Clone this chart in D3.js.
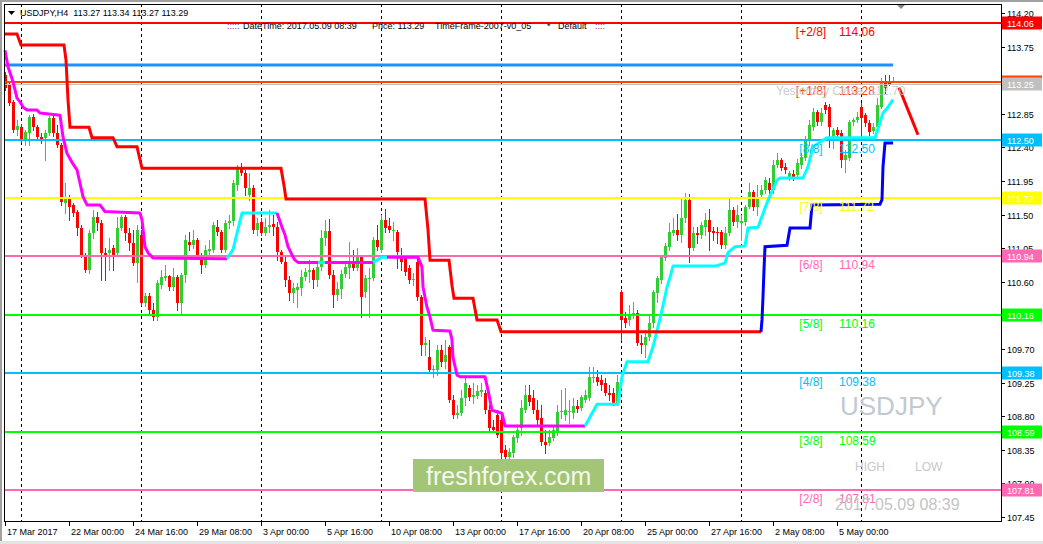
<!DOCTYPE html>
<html>
<head>
<meta charset="utf-8">
<script src="https://cdn.jsdelivr.net/npm/d3@7"></script>
<style>
  body { margin: 0; background: #fff; }
  svg { display: block; font-family: "Liberation Sans", Arial, sans-serif; }
  text { white-space: pre; }
</style>
</head>
<body>
<svg width="1043" height="544"></svg>
<script>

// H4 bars, first one is 17 Mar 08:00, bar 0 is 20 Mar 00:00
const firstBar = -4;

const open = [
  113.37, 113.24, 113.01, 112.63, 112.67, 112.50, 112.59, 112.81, 112.67, 112.54,
  112.53, 112.59, 112.79, 112.59, 112.43, 111.66, 111.74, 111.63, 111.54, 111.32,
  110.96, 110.76, 111.25, 111.47, 111.39, 110.99, 110.99, 111.05, 110.99, 111.32,
  111.47, 111.25, 111.12, 110.85, 111.23, 110.32, 110.41, 110.22, 110.13, 110.56,
  110.65, 110.68, 110.53, 110.66, 110.32, 110.69, 111.13, 111.09, 111.16, 110.96,
  110.83, 111.01, 111.03, 111.33, 111.27, 111.03, 111.39, 111.41, 111.90, 112.12,
  112.06, 111.76, 111.86, 111.29, 111.40, 111.25, 111.33, 111.37, 111.33, 111.00,
  110.87, 110.62, 110.45, 110.49, 110.52, 110.66, 110.73, 110.76, 110.62, 110.80,
  111.19, 111.28, 110.69, 110.42, 110.50, 110.70, 110.78, 110.85, 110.78, 110.93,
  110.46, 110.64, 110.65, 111.16, 111.03, 111.43, 111.35, 111.28, 111.27, 110.96,
  110.92, 110.78, 110.62, 110.87, 110.40, 109.75, 109.59, 109.42, 109.42, 109.69,
  109.53, 109.73, 109.02, 108.82, 108.84, 109.04, 109.18, 109.06, 109.07, 109.12,
  109.11, 108.88, 108.66, 108.82, 108.75, 108.35, 108.25, 108.31, 108.51, 108.64,
  108.88, 109.08, 109.04, 108.88, 108.78, 108.46, 108.44, 108.51, 108.59, 108.86,
  108.82, 108.86, 108.84, 108.94, 108.91, 109.02, 109.04, 109.31, 109.33, 109.29,
  109.25, 109.11, 109.11, 108.98, 110.46, 110.12, 110.09, 110.17, 110.18, 109.78,
  109.75, 109.86, 110.05, 110.45, 110.62, 110.92, 111.07, 111.25, 111.29, 111.23,
  111.45, 111.70, 111.05, 111.25, 111.23, 111.33, 111.43, 111.28, 111.27, 111.27,
  111.09, 111.25, 111.56, 111.40, 111.39, 111.40, 111.60, 111.80, 111.60, 111.76,
  111.83, 111.92, 111.83, 112.16, 112.23, 112.14, 111.99, 112.04, 112.03, 112.16,
  112.26, 112.49, 112.67, 112.87, 112.74, 112.97, 112.94, 112.50, 112.63, 112.59,
  112.23, 112.26, 112.74, 112.77, 112.94, 112.83, 112.73, 112.62, 112.67, 112.94,
  113.26, 113.28, 113.27
];
const high = [
  113.41, 113.28, 113.04, 112.77, 112.71, 112.63, 112.83, 112.85, 112.70, 112.59,
  112.63, 112.82, 112.83, 112.70, 112.46, 111.92, 111.76, 111.66, 111.56, 111.36,
  110.99, 111.29, 111.56, 111.54, 111.43, 111.05, 111.19, 111.09, 111.47, 111.50,
  111.50, 111.32, 111.29, 111.36, 111.29, 110.45, 110.45, 110.32, 110.62, 110.76,
  110.83, 110.69, 110.78, 110.69, 110.72, 111.23, 111.27, 111.29, 111.19, 110.99,
  111.09, 111.16, 111.40, 111.43, 111.29, 111.43, 111.50, 111.96, 112.16, 112.19,
  112.10, 112.06, 111.90, 111.45, 111.45, 111.45, 111.56, 111.49, 111.40, 111.03,
  110.95, 110.68, 110.58, 110.58, 110.76, 110.79, 110.89, 110.79, 110.85, 111.29,
  111.43, 111.44, 110.76, 110.60, 110.76, 110.85, 111.13, 111.03, 111.05, 110.96,
  110.69, 110.78, 111.20, 111.36, 111.50, 111.58, 111.45, 111.40, 111.29, 111.05,
  110.96, 110.83, 110.72, 110.96, 110.42, 109.86, 109.82, 109.49, 109.75, 109.75,
  109.82, 109.75, 109.08, 108.95, 109.15, 109.35, 109.22, 109.25, 109.22, 109.25,
  109.15, 108.95, 108.75, 108.88, 108.82, 108.41, 108.37, 108.55, 108.68, 109.02,
  109.22, 109.22, 109.15, 109.02, 108.95, 108.62, 108.62, 108.68, 108.95, 109.15,
  109.18, 109.02, 109.04, 109.02, 109.08, 109.15, 109.46, 109.46, 109.42, 109.35,
  109.31, 109.22, 109.18, 109.35, 110.49, 110.20, 110.29, 110.33, 110.22, 109.89,
  109.95, 110.16, 110.49, 110.68, 110.96, 111.12, 111.39, 111.45, 111.51, 111.72,
  111.79, 111.78, 111.33, 111.33, 111.40, 111.52, 111.58, 111.33, 111.33, 111.29,
  111.33, 111.71, 111.60, 111.63, 111.49, 111.63, 111.92, 111.83, 111.90, 111.90,
  112.00, 111.99, 112.23, 112.33, 112.26, 112.19, 112.08, 112.10, 112.24, 112.33,
  112.55, 112.77, 112.93, 112.90, 112.93, 113.01, 112.98, 112.66, 112.67, 112.63,
  112.37, 112.77, 112.79, 112.87, 112.99, 112.86, 112.77, 112.73, 113.06, 113.33,
  113.37, 113.37, 113.34
];
const low = [
  113.17, 112.97, 112.61, 112.57, 112.47, 112.43, 112.43, 112.63, 112.50, 112.46,
  112.23, 112.57, 112.55, 112.41, 111.63, 111.52, 111.43, 111.48, 111.23, 110.93,
  110.73, 110.72, 111.19, 111.29, 110.62, 110.62, 110.76, 110.76, 110.95, 111.29,
  111.16, 111.03, 110.83, 110.60, 110.29, 110.28, 110.18, 110.09, 110.09, 110.52,
  110.62, 110.49, 110.49, 110.22, 110.16, 110.60, 111.03, 111.05, 110.92, 110.72,
  110.80, 110.96, 111.00, 111.23, 111.00, 111.00, 111.32, 111.36, 111.83, 112.03,
  111.76, 111.70, 111.25, 111.23, 111.23, 111.23, 111.27, 111.23, 110.89, 110.85,
  110.54, 110.36, 110.33, 110.26, 110.42, 110.62, 110.60, 110.52, 110.54, 110.76,
  111.09, 110.65, 110.26, 110.36, 110.38, 110.66, 110.65, 110.76, 110.76, 110.13,
  110.40, 110.13, 110.62, 111.03, 111.00, 111.27, 111.27, 111.16, 110.78, 110.76,
  110.69, 110.58, 110.56, 110.36, 109.62, 109.62, 109.39, 109.33, 109.35, 109.47,
  109.45, 108.99, 108.78, 108.78, 108.82, 108.95, 109.02, 108.98, 109.04, 109.07,
  108.84, 108.62, 108.59, 108.52, 108.17, 108.12, 108.21, 108.25, 108.46, 108.55,
  108.86, 108.95, 108.84, 108.68, 108.41, 108.31, 108.41, 108.48, 108.55, 108.78,
  108.75, 108.71, 108.78, 108.86, 108.88, 108.99, 109.02, 109.26, 109.22, 109.15,
  109.08, 109.02, 108.95, 108.95, 109.82, 109.99, 110.02, 110.12, 109.75, 109.65,
  109.59, 109.82, 109.99, 110.33, 110.58, 110.89, 111.03, 111.23, 111.16, 111.13,
  111.40, 110.87, 111.03, 111.12, 111.19, 111.23, 111.03, 111.16, 111.12, 111.05,
  111.05, 111.23, 111.36, 111.33, 111.16, 111.36, 111.59, 111.56, 111.49, 111.72,
  111.79, 111.79, 111.79, 112.14, 112.10, 112.06, 111.96, 111.96, 112.00, 112.12,
  112.23, 112.43, 112.63, 112.70, 112.70, 112.86, 112.41, 112.39, 112.50, 112.14,
  112.07, 112.23, 112.70, 112.74, 112.54, 112.69, 112.57, 112.59, 112.63, 112.93,
  113.13, 113.24, 113.27
];
const close = [
  113.20, 113.00, 112.63, 112.69, 112.50, 112.61, 112.81, 112.67, 112.54, 112.49,
  112.59, 112.79, 112.59, 112.43, 111.67, 111.74, 111.60, 111.52, 111.32, 110.96,
  110.76, 111.25, 111.47, 111.39, 110.99, 110.93, 111.03, 110.96, 111.32, 111.47,
  111.25, 111.12, 110.85, 111.29, 110.32, 110.41, 110.22, 110.13, 110.58, 110.66,
  110.68, 110.53, 110.66, 110.32, 110.69, 111.16, 111.09, 111.16, 110.96, 110.83,
  111.03, 111.04, 111.36, 111.27, 111.03, 111.39, 111.41, 111.92, 112.12, 112.06,
  111.86, 111.86, 111.29, 111.39, 111.25, 111.33, 111.36, 111.33, 111.00, 110.87,
  110.62, 110.45, 110.52, 110.53, 110.66, 110.73, 110.76, 110.62, 110.80, 111.19,
  111.28, 110.69, 110.42, 110.50, 110.70, 110.80, 110.85, 110.78, 110.93, 110.40,
  110.65, 110.65, 111.16, 111.07, 111.43, 111.32, 111.29, 111.29, 111.00, 110.87,
  110.73, 110.62, 110.64, 110.40, 109.75, 109.78, 109.42, 109.43, 109.69, 109.53,
  109.62, 109.02, 108.82, 108.84, 109.04, 109.25, 109.06, 109.08, 109.14, 109.15,
  108.88, 108.64, 108.62, 108.55, 108.31, 108.25, 108.32, 108.52, 108.62, 108.91,
  109.08, 108.99, 108.88, 108.75, 108.46, 108.41, 108.52, 108.62, 108.86, 108.87,
  108.88, 108.87, 108.94, 108.90, 109.06, 109.08, 109.32, 109.33, 109.26, 109.22,
  109.11, 109.08, 108.98, 109.26, 110.09, 110.05, 110.16, 110.18, 109.78, 109.75,
  109.86, 110.05, 110.46, 110.65, 110.93, 111.08, 111.27, 111.29, 111.23, 111.45,
  111.70, 111.05, 111.25, 111.23, 111.36, 111.43, 111.27, 111.25, 111.25, 111.09,
  111.25, 111.56, 111.40, 111.50, 111.41, 111.60, 111.80, 111.60, 111.72, 111.83,
  111.96, 111.83, 112.16, 112.23, 112.12, 112.10, 112.06, 111.99, 112.19, 112.27,
  112.50, 112.70, 112.87, 112.74, 112.86, 112.90, 112.67, 112.63, 112.57, 112.23,
  112.30, 112.74, 112.77, 112.81, 112.79, 112.73, 112.61, 112.67, 112.97, 113.28,
  113.20, 113.25, 113.29
];

// trailing stop line (magenta while falling, aqua while rising)
const trailBar = [
  -4, -3.25, -2, -1, -0.25, 0.5, 1.5, 4, 4.75, 9.75, 10.5, 11.5, 12.75, 14, 14.75, 15.5, 16.5, 19.75,
  21, 29.75, 30.25, 31, 31.75, 33, 51.5, 53, 54, 55.25, 64, 65.25, 66, 66.75, 67.75, 68.5, 69.25,
  74.25, 76, 88, 90.25, 91.5, 99.25, 100.25, 100.5, 101.5, 102.25, 103, 107.25, 107.75, 108, 109,
  109.75, 116, 116.75, 117.75, 119, 120.25, 121, 141, 142.25, 144, 149.25, 150.25, 151.5, 156.75,
  158, 159.25, 160.25, 161.5, 162.25, 163, 173.5, 176, 176.75, 178.5, 181, 181.75, 184.25, 186.5,
  189, 189.75, 195.5, 196.75, 198, 201.5, 213.5, 215.5, 216.75, 218
];
const trailPrice = [
  113.70, 113.48, 113.28, 113.06, 113.01, 112.94, 112.90, 112.90, 112.86, 112.83, 112.54, 112.32, 112.20, 112.10, 111.92, 111.74, 111.63, 111.63,
  111.54, 111.52, 111.43, 111.07, 110.99, 110.92, 110.91, 111.03, 111.25, 111.52, 111.52, 111.33, 111.23, 111.07, 110.96, 110.89, 110.86,
  110.86, 110.86, 110.86, 110.93, 110.93, 110.93, 110.80, 110.53, 110.26, 110.13, 109.95, 109.94, 109.82, 109.59, 109.35,
  109.33, 109.33, 109.15, 108.88, 108.86, 108.84, 108.67, 108.67, 108.79, 108.96, 108.96, 109.33, 109.53, 109.53,
  109.73, 110.00, 110.22, 110.53, 110.66, 110.81, 110.81, 110.85, 110.99, 111.07, 111.08, 111.32, 111.33, 111.66,
  111.96, 111.99, 111.99, 112.14, 112.41, 112.53, 112.53, 112.86, 112.94, 113.04
];
// 1 = rising segment ending at this point
const trailUp = [
  0, 0, 0, 0, 0, 0, 0, 0, 0, 0, 0, 0, 0, 0, 0, 0, 0, 0,
  0, 0, 0, 0, 0, 0, 0, 1, 1, 1, 1, 0, 0, 0, 0, 0, 0,
  0, 1, 0, 1, 1, 0, 0, 0, 0, 0, 0, 0, 0, 0, 0,
  0, 0, 0, 0, 0, 0, 0, 0, 1, 1, 1, 1, 1, 1,
  1, 1, 1, 1, 1, 1, 1, 1, 1, 1, 1, 1, 1, 1,
  1, 1, 1, 1, 1, 1, 1, 1, 1, 1
];

// stepped resistance (red) and support (blue)
const resistBar = [-4, -1, 0, 10.75, 11.25, 11.75, 12.25, 17, 17.75, 23, 24, 29, 30.25, 65, 65.75, 66.25, 101, 101.75, 102.25, 107, 107.75, 108.25, 113, 114, 119, 120, 185];
const resistPrice = [113.92, 113.92, 113.77, 113.77, 113.57, 113.04, 112.67, 112.67, 112.53, 112.53, 112.41, 112.41, 112.12, 112.12, 111.89, 111.71, 111.71, 111.30, 110.89, 110.89, 110.55, 110.38, 110.38, 110.09, 110.09, 109.93, 109.93];
const supportBar = [185, 185.25, 185.5, 185.75, 186, 191.5, 192.25, 197.25, 197.75, 214.75, 215.25, 215.5, 216, 218];
const supportPrice = [109.93, 110.09, 110.40, 110.76, 111.07, 111.09, 111.32, 111.32, 111.63, 111.64, 111.70, 112.14, 112.46, 112.46];
const projBar = [219.5, 224.25];
const projPrice = [113.20, 112.57];

// Murrey levels
const levelNames = ['[+2/8]', '[+1/8]', '[8/8]', '[7/8]', '[6/8]', '[5/8]', '[4/8]', '[3/8]', '[2/8]'];
const levelValues = [114.06, 113.28, 112.50, 111.72, 110.94, 110.16, 109.38, 108.59, 107.81];
const levelColors = ['#ff0000', '#ff4500', '#00bfff', '#ffff00', '#ff69b4', '#00ff00', '#00bfff', '#00ff00', '#ff69b4'];

const dayHigh = 113.50;
const bidLine = 113.25;

const priceTicks = [114.20, 113.75, 113.30, 112.85, 112.40, 111.95, 111.50, 111.05, 110.60, 110.15, 109.70, 109.25, 108.80, 108.35, 107.90, 107.45];
const timeTickBars = [-4, 12, 28, 44, 60, 76, 92, 108, 124, 140, 156, 172, 188, 204];
const timeTickLabels = ['17 Mar 2017', '22 Mar 00:00', '24 Mar 16:00', '29 Mar 08:00', '3 Apr 00:00', '5 Apr 16:00', '10 Apr 08:00',
  '13 Apr 00:00', '17 Apr 16:00', '20 Apr 08:00', '25 Apr 00:00', '27 Apr 16:00', '2 May 08:00', '5 May 00:00'];
const weekStarts = [0, 30, 60, 90, 120, 150, 180, 210];


let svg = d3.select('svg');
let plot = { left: 4, right: 1001, top: 4, bottom: 521 };

let x = d3.scaleLinear().domain([-4, 218]).range([5, 893]);
let y = d3.scaleLinear().domain([107.45, 114.20]).range([517, 13]);
let px = v => Math.round(x(v));
let py = v => Math.round(y(v));

// window edges
svg.append('rect').attr('width', 1043).attr('height', 2).attr('fill', '#a0a0a0');
svg.append('rect').attr('width', 2).attr('height', 544).attr('fill', '#a0a0a0');
svg.append('rect').attr('y', 541).attr('width', 1043).attr('height', 3).attr('fill', '#e4e4e4');

let chart = svg.append('g');

chart.selectAll('.week')
  .data(weekStarts)
  .enter().append('line')
  .attr('x1', d => px(d) + 0.5).attr('x2', d => px(d) + 0.5)
  .attr('y1', plot.top).attr('y2', plot.bottom)
  .attr('stroke', '#000').attr('stroke-dasharray', '3,3');

// candles
let bars = open.map((o, i) => ({ k: firstBar + i, o: o, h: high[i], l: low[i], c: close[i] }));
let barColor = d => d.c >= d.o ? '#32cd32' : '#ff0000';

let candle = chart.selectAll('.bar')
  .data(bars)
  .enter().append('g');

candle.append('line')
  .attr('x1', d => px(d.k) + 0.5).attr('x2', d => px(d.k) + 0.5)
  .attr('y1', d => py(d.h)).attr('y2', d => py(d.l) + 1)
  .attr('stroke', barColor);

candle.append('rect')
  .attr('x', d => px(d.k) - 1)
  .attr('width', 3)
  .attr('y', d => py(Math.max(d.o, d.c)))
  .attr('height', d => Math.max(1, py(Math.min(d.o, d.c)) - py(Math.max(d.o, d.c))))
  .attr('fill', barColor);

// horizontal levels
let lvl = levelValues.map((v, i) => ({ v: v, name: levelNames[i], color: levelColors[i] }));

chart.append('line')
  .attr('x1', plot.left + 1).attr('x2', plot.right)
  .attr('y1', py(bidLine) + 0.5).attr('y2', py(bidLine) + 0.5)
  .attr('stroke', '#c0c0c0');

chart.selectAll('.level')
  .data(lvl)
  .enter().append('line')
  .attr('x1', plot.left + 1).attr('x2', plot.right)
  .attr('y1', d => py(d.v)).attr('y2', d => py(d.v))
  .attr('stroke', d => d.color).attr('stroke-width', 2);

chart.append('line')
  .attr('x1', x(firstBar)).attr('x2', x(218))
  .attr('y1', py(dayHigh)).attr('y2', py(dayHigh))
  .attr('stroke', '#1e90ff').attr('stroke-width', 3);

// indicator lines
let line = d3.line().x(d => x(d[0])).y(d => y(d[1]));

let runs = [];
trailBar.forEach((b, i) => {
  if (i === 0) return;
  let col = trailUp[i] ? '#00ffff' : '#ff00ff';
  let last = runs[runs.length - 1];
  if (last && last.col === col) last.pts.push([b, trailPrice[i]]);
  else runs.push({ col: col, pts: [[trailBar[i - 1], trailPrice[i - 1]], [b, trailPrice[i]]] });
});

chart.selectAll('.trail')
  .data(runs)
  .enter().append('path')
  .attr('d', d => line(d.pts))
  .attr('fill', 'none').attr('stroke', d => d.col)
  .attr('stroke-width', 3).attr('stroke-linejoin', 'round');

chart.append('path')
  .attr('d', line(resistBar.map((b, i) => [b, resistPrice[i]])))
  .attr('fill', 'none').attr('stroke', '#ff0000').attr('stroke-width', 3);

chart.append('path')
  .attr('d', line(supportBar.map((b, i) => [b, supportPrice[i]])))
  .attr('fill', 'none').attr('stroke', '#0000ff').attr('stroke-width', 3);

chart.append('path')
  .attr('d', line(projBar.map((b, i) => [b, projPrice[i]])))
  .attr('fill', 'none').attr('stroke', '#ff0000').attr('stroke-width', 3);

// level captions
chart.selectAll('.lname')
  .data(lvl)
  .enter().append('text')
  .attr('x', 811).attr('y', d => py(d.v) + 13)
  .attr('text-anchor', 'middle')
  .attr('font-size', 12).attr('fill', d => d.color)
  .text(d => d.name);

chart.selectAll('.lval')
  .data(lvl)
  .enter().append('text')
  .attr('x', 839).attr('y', d => py(d.v) + 13)
  .attr('font-size', 12).attr('fill', d => d.color)
  .text(d => d.v.toFixed(2));

chart.append('text')
  .attr('x', 776).attr('y', py(bidLine) + 11)
  .attr('font-size', 12).attr('fill', '#c8c8c8').attr('opacity', 0.9)
  .text('Yesterday Close  112.70');

// watermark texts
chart.append('text').attr('x', 840).attr('y', 415)
  .attr('font-size', 26).attr('fill', '#c2c9d2').text('USDJPY');
chart.append('text').attr('x', 855).attr('y', 471)
  .attr('font-size', 12).attr('fill', '#c8c8c8').text('HIGH');
chart.append('text').attr('x', 915).attr('y', 471)
  .attr('font-size', 12).attr('fill', '#c8c8c8').text('LOW');
chart.append('text').attr('x', 835).attr('y', 510)
  .attr('font-size', 16).attr('fill', '#c4c4c4').text('2017.05.09 08:39');

chart.append('rect')
  .attr('x', 413).attr('y', 459).attr('width', 191).attr('height', 33)
  .attr('fill', '#a3c676');
chart.append('text').attr('x', 426).attr('y', 485)
  .attr('font-size', 25).attr('fill', '#f4f8ee').text('freshforex.com');

// frame
svg.append('rect')
  .attr('x', plot.left + 0.5).attr('y', plot.top + 0.5)
  .attr('width', plot.right - plot.left).attr('height', plot.bottom - plot.top)
  .attr('fill', 'none').attr('stroke', '#000');

// price scale
let yAxis = svg.append('g').attr('font-size', 9);
yAxis.selectAll('.tick')
  .data(priceTicks)
  .enter().append('line')
  .attr('x1', plot.right + 1).attr('x2', plot.right + 4)
  .attr('y1', d => py(d) + 0.5).attr('y2', d => py(d) + 0.5)
  .attr('stroke', '#000');
yAxis.selectAll('.lab')
  .data(priceTicks)
  .enter().append('text')
  .attr('x', 1007).attr('y', d => py(d) + 3.5)
  .attr('fill', '#000')
  .text(d => d.toFixed(2));

let tags = [{ v: levelValues[1], color: levelColors[1] }, { v: bidLine, color: '#c0c0c0' }]
  .concat(lvl.filter((d, i) => i !== 1));
let tag = yAxis.selectAll('.tag')
  .data(tags)
  .enter().append('g');
tag.append('rect')
  .attr('x', 1002).attr('y', d => py(d.v) - 6.5)
  .attr('width', 40).attr('height', 13)
  .attr('fill', d => d.color);
tag.append('text')
  .attr('x', 1007).attr('y', d => py(d.v) + 3.5)
  .attr('fill', '#fff')
  .text(d => d.v.toFixed(2));

// time scale
let xAxis = svg.append('g').attr('font-size', 9);
xAxis.selectAll('.tick')
  .data(timeTickBars)
  .enter().append('line')
  .attr('x1', d => px(d) + 0.5).attr('x2', d => px(d) + 0.5)
  .attr('y1', plot.bottom + 1).attr('y2', plot.bottom + 5)
  .attr('stroke', '#000');
xAxis.selectAll('.lab')
  .data(timeTickBars)
  .enter().append('text')
  .attr('x', d => px(d) + 2).attr('y', 535)
  .attr('fill', '#000')
  .text((d, i) => timeTickLabels[i]);

// header
let head = svg.append('g').attr('font-size', 9).attr('fill', '#000');
head.append('path').attr('d', 'M8,11L15,11L11.5,15Z').attr('fill', '#000');
head.append('text').attr('x', 20).attr('y', 16).text('USDJPY,H4  113.27 113.34 113.27 113.29');
head.append('text').attr('x', 227).attr('y', 29).attr('fill', '#6a2c8a').text(':::::');
head.append('text').attr('x', 243).attr('y', 29).text('DateTime: 2017.05.09 08:39');
head.append('text').attr('x', 372).attr('y', 29).text('Price: 113.29');
head.append('text').attr('x', 435).attr('y', 29).text('TimeFrame-2007-v0_05');
head.append('text').attr('x', 547).attr('y', 29).text('*');
head.append('text').attr('x', 558).attr('y', 29).text('Default');
head.append('text').attr('x', 595).attr('y', 29).attr('fill', '#6a2c8a').text('::::');
svg.append('path').attr('d', 'M897,5L905,5L901,9Z').attr('fill', '#888');

</script>
</body>
</html>
